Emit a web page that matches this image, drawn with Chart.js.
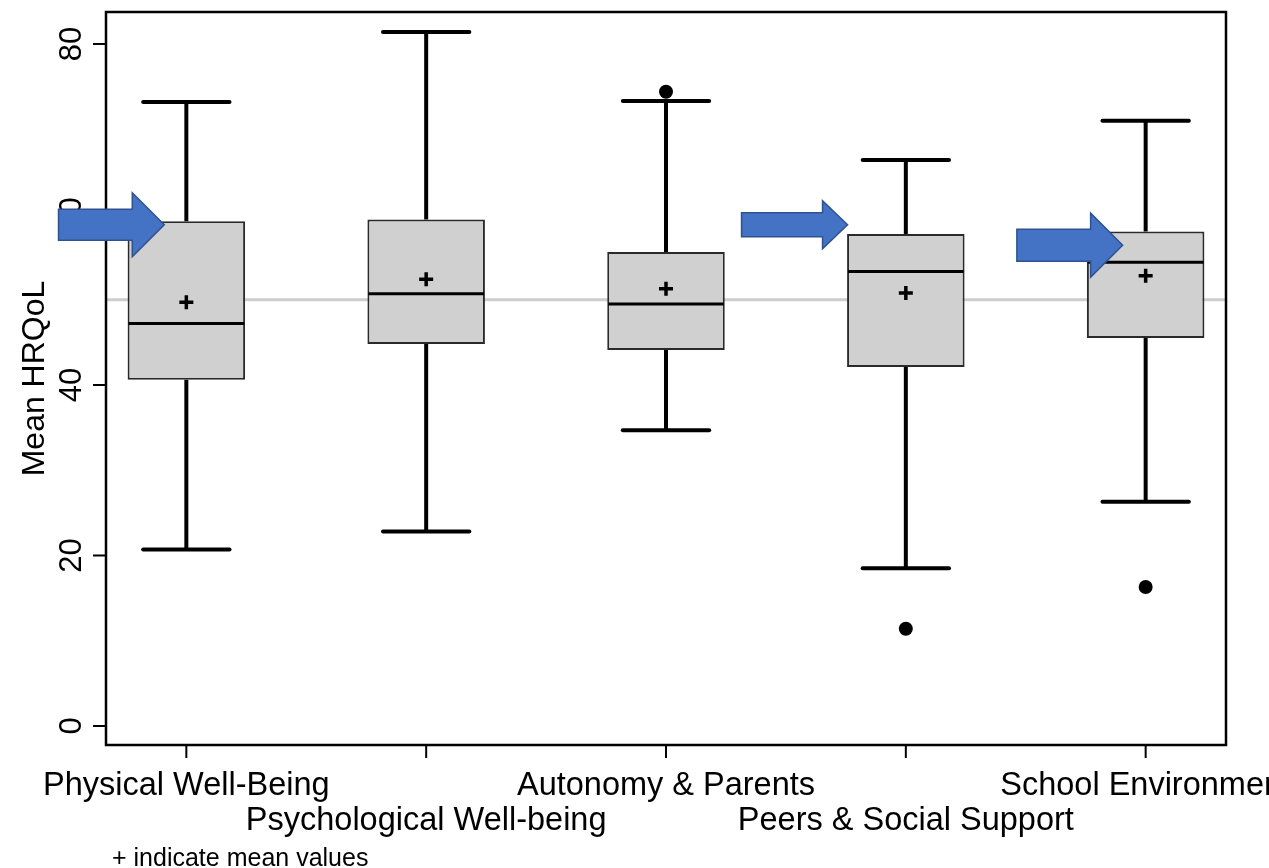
<!DOCTYPE html>
<html>
<head>
<meta charset="utf-8">
<script src="https://cdn.jsdelivr.net/npm/chart.js@4.4.1/dist/chart.umd.min.js"></script>
<style>
  html, body { margin: 0; padding: 0; background: #fff; }
  #chart { display: block; }
</style>
</head>
<body>
<canvas id="chart" width="1269" height="868"></canvas>
<script>
// Data
const categories = ['Physical Well-Being', 'Psychological Well-being', 'Autonomy & Parents', 'Peers & Social Support', 'School Environment'];
const whiskerLow = [20.7, 22.8, 34.7, 18.5, 26.3];
const q1 = [40.6, 44.8, 44.1, 42.1, 45.5];
const median = [47.2, 50.7, 49.5, 53.3, 54.4];
const q3 = [59.2, 59.4, 55.6, 57.7, 58.0];
const whiskerHigh = [73.2, 81.4, 73.3, 66.4, 71.0];
const means = [49.7, 52.4, 51.3, 50.8, 52.8];
const outlierCats = [2, 3, 4];
const outlierValues = [74.4, 11.4, 16.3];
const yTicks = [0, 20, 40, 60, 80];
const referenceValue = 50;

const yTitle = 'Mean HRQoL';
const footnote = '+ indicate mean values';
const FONT = '"Liberation Sans", Arial, sans-serif';

// blue call-out arrows (offsets are in category units from the box centre)
const arrows = [
  { cat: 0, tail: -0.533, tip: -0.092, value: 58.8, body: 15.5, head: 32, headLen: 32 },
  { cat: 3, tail: -0.685, tip: -0.243, value: 58.8, body: 12, head: 24, headLen: 25 },
  { cat: 4, tail: -0.537, tip: -0.096, value: 56.4, body: 16, head: 32, headLen: 32 }
];

function strokeLine(ctx, x1, y1, x2, y2) {
  ctx.beginPath();
  ctx.moveTo(x1, y1);
  ctx.lineTo(x2, y2);
  ctx.stroke();
}

const boxPlot = {
  id: 'boxPlot',
  beforeDatasetsDraw(chart) {
    const { ctx, chartArea: a, scales: { x, y } } = chart;
    ctx.save();
    // reference line
    ctx.strokeStyle = '#cdcdcd';
    ctx.lineWidth = 3;
    const ry = y.getPixelForValue(referenceValue);
    strokeLine(ctx, a.left, ry, a.right, ry);

    // whiskers and caps
    ctx.strokeStyle = '#000';
    categories.forEach((c, i) => {
      const cx = x.getPixelForValue(i);
      ctx.lineWidth = 4;
      ctx.lineCap = 'butt';
      strokeLine(ctx, cx, y.getPixelForValue(q3[i]), cx, y.getPixelForValue(whiskerHigh[i]));
      strokeLine(ctx, cx, y.getPixelForValue(q1[i]), cx, y.getPixelForValue(whiskerLow[i]));
      ctx.lineCap = 'round';
      const l = x.getPixelForValue(i - 0.18);
      const r = x.getPixelForValue(i + 0.18);
      strokeLine(ctx, l, y.getPixelForValue(whiskerHigh[i]), r, y.getPixelForValue(whiskerHigh[i]));
      strokeLine(ctx, l, y.getPixelForValue(whiskerLow[i]), r, y.getPixelForValue(whiskerLow[i]));
    });
    ctx.restore();
  },
  afterDatasetDraw(chart, args) {
    if (args.index !== 0) return;
    const { ctx, scales: { y } } = chart;
    ctx.save();
    ctx.strokeStyle = '#000';
    ctx.lineWidth = 3;
    args.meta.data.forEach((bar, i) => {
      const half = bar.width / 2 - 1;
      const my = y.getPixelForValue(median[i]);
      strokeLine(ctx, bar.x - half, my, bar.x + half, my);
    });
    ctx.restore();
  },
  afterDatasetsDraw(chart) {
    const { ctx, chartArea: a, scales: { x, y } } = chart;
    ctx.save();
    // frame
    ctx.strokeStyle = '#000';
    ctx.lineWidth = 2.5;
    ctx.strokeRect(a.left, a.top, a.right - a.left, a.bottom - a.top);

    // y ticks + labels
    ctx.lineWidth = 2;
    ctx.fillStyle = '#000';
    ctx.font = '31px ' + FONT;
    ctx.textAlign = 'center';
    ctx.textBaseline = 'alphabetic';
    yTicks.forEach(t => {
      const ty = y.getPixelForValue(t);
      strokeLine(ctx, a.left - 13, ty, a.left, ty);
      ctx.save();
      ctx.translate(a.left - 25, ty);
      ctx.rotate(-Math.PI / 2);
      ctx.fillText(String(t), 0, 0);
      ctx.restore();
    });

    // y title
    ctx.save();
    ctx.font = '32px ' + FONT;
    ctx.translate(44, (a.top + a.bottom) / 2);
    ctx.rotate(-Math.PI / 2);
    ctx.fillText(yTitle, 0, 0);
    ctx.restore();

    // x ticks + staggered labels
    ctx.font = '32.5px ' + FONT;
    categories.forEach((c, i) => {
      const tx = x.getPixelForValue(i);
      strokeLine(ctx, tx, a.bottom, tx, a.bottom + 13);
      ctx.fillText(c, tx, i % 2 === 0 ? 795 : 830);
    });

    // footnote
    ctx.font = '25px ' + FONT;
    ctx.textAlign = 'left';
    ctx.fillText(footnote, 112, 866);
    ctx.restore();
  },
  afterDraw(chart) {
    const { ctx, scales: { x, y } } = chart;
    ctx.save();
    ctx.fillStyle = '#4472C4';
    ctx.strokeStyle = '#2F528F';
    ctx.lineWidth = 1.5;
    ctx.lineJoin = 'miter';
    arrows.forEach(ar => {
      const x0 = x.getPixelForValue(ar.cat + ar.tail);
      const x1 = x.getPixelForValue(ar.cat + ar.tip);
      const cy = y.getPixelForValue(ar.value);
      const xb = x1 - ar.headLen;
      ctx.beginPath();
      ctx.moveTo(x0, cy - ar.body);
      ctx.lineTo(xb, cy - ar.body);
      ctx.lineTo(xb, cy - ar.head);
      ctx.lineTo(x1, cy);
      ctx.lineTo(xb, cy + ar.head);
      ctx.lineTo(xb, cy + ar.body);
      ctx.lineTo(x0, cy + ar.body);
      ctx.closePath();
      ctx.fill();
      ctx.stroke();
    });
    ctx.restore();
  }
};

new Chart(document.getElementById('chart'), {
  type: 'bar',
  data: {
    datasets: [
      {
        label: 'IQR',
        order: 2,
        data: categories.map((c, i) => ({ x: i, y: [q1[i], q3[i]] })),
        backgroundColor: '#d0d0d0',
        borderColor: '#2a2a2a',
        borderWidth: 2,
        borderSkipped: false,
        categoryPercentage: 1,
        barPercentage: 0.49
      },
      {
        type: 'scatter',
        label: 'Mean',
        order: 0,
        data: means.map((v, i) => ({ x: i, y: v })),
        pointStyle: 'cross',
        pointRadius: 7,
        borderColor: '#000',
        borderWidth: 3.5,
        backgroundColor: '#000'
      },
      {
        type: 'scatter',
        label: 'Outliers',
        order: 1,
        data: outlierValues.map((v, i) => ({ x: outlierCats[i], y: v })),
        pointStyle: 'circle',
        pointRadius: 7,
        borderWidth: 0,
        backgroundColor: '#000'
      }
    ]
  },
  options: {
    responsive: false,
    animation: false,
    layout: { padding: { left: 106, top: 12, right: 43, bottom: 123 } },
    plugins: { legend: { display: false }, tooltip: { enabled: false } },
    scales: {
      x: {
        type: 'linear',
        display: false,
        offset: false,
        min: -0.335,
        max: 4.335,
        afterBuildTicks: s => { s.ticks = categories.map((c, i) => ({ value: i })); }
      },
      y: {
        type: 'linear',
        display: false,
        min: -2.23,
        max: 83.75
      }
    }
  },
  plugins: [boxPlot]
});
</script>
</body>
</html>
